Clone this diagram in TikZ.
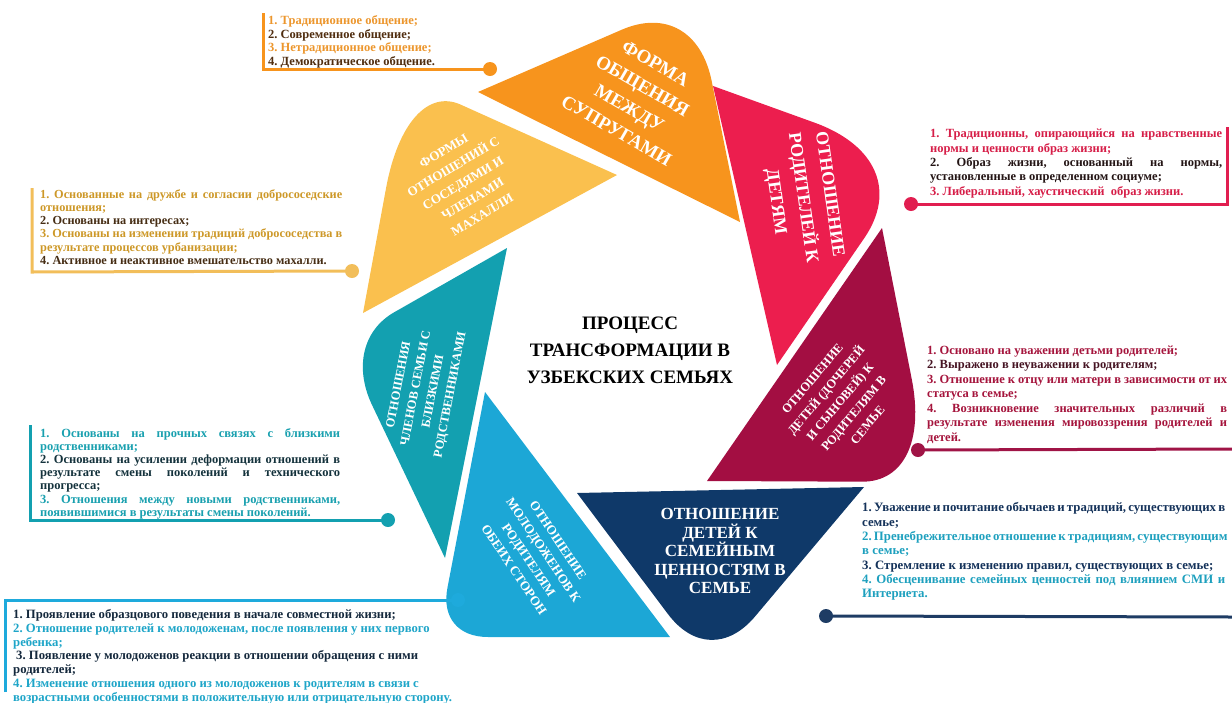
\documentclass[tikz,border=0pt]{standalone}
\usepackage{fontspec}
\setmainfont{Liberation Serif}
\usetikzlibrary{calc}
\definecolor{cOr}{RGB}{247,148,29}
\definecolor{cRd}{RGB}{236,30,78}
\definecolor{cMr}{RGB}{163,14,66}
\definecolor{cNv}{RGB}{15,57,105}
\definecolor{cLb}{RGB}{28,167,214}
\definecolor{cTl}{RGB}{19,160,176}
\definecolor{cYl}{RGB}{250,192,78}
\definecolor{tOr}{RGB}{236,150,45}
\definecolor{tOrD}{RGB}{80,45,15}
\definecolor{tRd}{RGB}{214,30,72}
\definecolor{tRdD}{RGB}{35,20,20}
\definecolor{tYl}{RGB}{205,152,40}
\definecolor{tYlD}{RGB}{70,45,20}
\definecolor{tMr}{RGB}{165,20,60}
\definecolor{tMrD}{RGB}{70,20,35}
\definecolor{tTl}{RGB}{25,160,175}
\definecolor{tTlD}{RGB}{20,50,60}
\definecolor{tNv}{RGB}{20,50,90}
\definecolor{tNvL}{RGB}{30,160,190}
\definecolor{tBl}{RGB}{20,40,60}
\definecolor{tBlL}{RGB}{30,165,200}
\definecolor{lRd}{RGB}{225,30,80}
\definecolor{lYl}{RGB}{242,190,90}
\definecolor{lMr}{RGB}{160,20,70}
\definecolor{lNv}{RGB}{30,60,100}
\definecolor{lLb}{RGB}{30,170,220}
\newcommand\bladeshape[4]{%
  \path ($(#2B)!#3!(#2A)$) coordinate (#2P) ($(#2B)!#4!(#2C)$) coordinate (#2Q);
  \fill[#1] (#2A) -- (#2P) .. controls ($(#2P)!0.6!(#2B)$) and ($(#2Q)!0.6!(#2B)$) .. (#2Q) -- (#2C) -- cycle;}
\newcommand\js[2]{\makebox[#1][s]{#2}}
\tikzset{
  note/.style={anchor=north west, inner sep=0pt, align=left, execute at begin node=\frenchspacing},
  lbl/.style={text=white, align=center, inner sep=0pt},
  conn/.style={line width=3pt},
  dotc/.style={circle, inner sep=0pt, minimum size=14pt},
}
\begin{document}
\begin{tikzpicture}[x=1pt,y=-1pt]
\useasboundingbox (0,0) rectangle (1232,702);
% blade corners
\coordinate (oA) at (478,92);  \coordinate (oB) at (695,-2);  \coordinate (oC) at (740,222);
\coordinate (rA) at (713,86);  \coordinate (rB) at (918,160); \coordinate (rC) at (777,365);
\coordinate (mA) at (882,228); \coordinate (mB) at (932,482); \coordinate (mC) at (707,481);
\coordinate (nA) at (864,487); \coordinate (nB) at (710,670); \coordinate (nC) at (577,493);
\coordinate (lA) at (670,637); \coordinate (lB) at (438,637); \coordinate (lC) at (485,392);
\coordinate (tA) at (445,558); \coordinate (tB) at (342,342); \coordinate (tC) at (507,248);
\coordinate (yA) at (363,313); \coordinate (yB) at (406,80);  \coordinate (yC) at (617,175);
\bladeshape{cOr}{o}{80pt}{85pt}
\bladeshape{cRd}{r}{110pt}{95pt}
\bladeshape{cMr}{m}{105pt}{70pt}
\bladeshape{cNv}{n}{70pt}{70pt}
\bladeshape{cLb}{l}{50pt}{50pt}
\bladeshape{cTl}{t}{70pt}{60pt}
\bladeshape{cYl}{y}{110pt}{60pt}
% blade labels
\node[lbl, rotate=-30, font=\bfseries\fontsize{19}{26}\selectfont] (labOr) at (636,97) {ФОРМА\\ОБЩЕНИЯ\\МЕЖДУ\\СУПРУГАМИ};
\node[lbl, rotate=-82, font=\bfseries\fontsize{18}{27}\selectfont] (labRd) at (802,198) {ОТНОШЕНИЕ\\РОДИТЕЛЕЙ К\\ДЕТЯМ};
\node[lbl, rotate=50, font=\bfseries\fontsize{12.5}{18}\selectfont] (labMr) at (840,402) {ОТНОШЕНИЕ\\ДЕТЕЙ (ДОЧЕРЕЙ\\И СЫНОВЕЙ) К\\РОДИТЕЛЯМ В\\СЕМЬЕ};
\node[lbl, font=\bfseries\fontsize{17}{18.5}\selectfont] (labNv) at (720,551) {ОТНОШЕНИЕ\\ДЕТЕЙ К\\СЕМЕЙНЫМ\\ЦЕННОСТЯМ В\\СЕМЬЕ};
\node[lbl, rotate=-56, font=\bfseries\fontsize{13}{17.7}\selectfont] (labLb) at (536,555) {ОТНОШЕНИЕ\\МОЛОДОЖЕНОВ К\\РОДИТЕЛЯМ\\ОБЕИХ СТОРОН};
\node[lbl, rotate=79, font=\bfseries\fontsize{12.5}{17.5}\selectfont] (labTl) at (425,390) {ОТНОШЕНИЯ\\ЧЛЕНОВ СЕМЬИ С\\БЛИЗКИМИ\\РОДСТВЕННИКАМИ};
\node[lbl, rotate=31, font=\bfseries\fontsize{13}{18.7}\selectfont] (labYl) at (463,183) {ФОРМЫ\\ОТНОШЕНИЙ С\\СОСЕДЯМИ И\\ЧЛЕНАМИ\\МАХАЛЛИ};
\node[align=center, inner sep=0pt, font=\bfseries\fontsize{19}{27}\selectfont] (title) at (630,350) {ПРОЦЕСС\\ТРАНСФОРМАЦИИ В\\УЗБЕКСКИХ СЕМЬЯХ};
% connectors
\node[dotc, fill=cOr] (dOr) at (490,69) {};
\coordinate (kOr1) at (263,13); \coordinate (kOr2) at (263,69);
\draw[conn, cOr] (kOr1) -- (kOr2) -- (dOr.center);
\node[dotc, fill=lRd] (dRd) at (911,204) {};
\coordinate (kRd1) at (1227,127); \coordinate (kRd2) at (1227,204);
\draw[conn, lRd] (kRd1) -- (kRd2) -- (dRd.center);
\node[dotc, fill=lYl] (dYl) at (352,271) {};
\coordinate (kYl1) at (32,188); \coordinate (kYl2) at (32,272);
\draw[conn, lYl] (kYl1) -- (kYl2) -- (dYl.center);
\node[dotc, fill=lMr] (dMr) at (918,450) {};
\coordinate (kMr) at (1232,449);
\draw[conn, lMr] (dMr.center) -- (kMr);
\node[dotc, fill=cTl] (dTl) at (388,520) {};
\coordinate (kTl1) at (30,425); \coordinate (kTl2) at (30,520);
\draw[conn, cTl] (kTl1) -- (kTl2) -- (dTl.center);
\node[dotc, fill=lNv] (dNv) at (826,616) {};
\coordinate (kNv) at (1232,617);
\draw[conn, lNv] (dNv.center) -- (kNv);
\node[dotc, fill=lLb] (dLb) at (458,600) {};
\coordinate (kLb1) at (5,692); \coordinate (kLb2) at (5,600);
\draw[conn, lLb] (kLb1) -- (kLb2) -- (dLb.center);
% text boxes
\node[note, font=\bfseries\fontsize{12.5}{13.5}\selectfont] (txOr) at (268,15.5) {%
\textcolor{tOr}{1. Традиционное общение;}\\
\textcolor{tOrD}{2. Современное общение;}\\
\textcolor{tOr}{3. Нетрадиционное общение;}\\
\textcolor{tOrD}{4. Демократическое общение.}};
\node[note, font=\bfseries\fontsize{12.5}{14.3}\selectfont] (txRd) at (930,129) {%
\textcolor{tRd}{\js{292pt}{1. Традиционны, опирающийся на нравственные}}\\
\textcolor{tRd}{нормы и ценности образ жизни;}\\
\textcolor{tRdD}{\js{292pt}{2. Образ жизни, основанный на нормы,}}\\
\textcolor{tRdD}{установленные в определенном социуме;}\\
\textcolor{tRd}{3. Либеральный, хаустический\ \ образ жизни.}};
\node[note, font=\bfseries\fontsize{12.3}{13.3}\selectfont] (txYl) at (40,189) {%
\textcolor{tYl}{\js{302pt}{1. Основанные на дружбе и согласии добрососедские}}\\
\textcolor{tYl}{отношения;}\\
\textcolor{tYlD}{2. Основаны на интересах;}\\
\textcolor{tYl}{\js{302pt}{3. Основаны на изменении традиций добрососедства в}}\\
\textcolor{tYl}{результате процессов урбанизации;}\\
\textcolor{tYlD}{4. Активное и неактивное вмешательство махалли.}};
\node[note, font=\bfseries\fontsize{12.5}{14.5}\selectfont] (txMr) at (927,345.5) {%
\textcolor{tMr}{1. Основано на уважении детьми родителей;}\\
\textcolor{tMrD}{2. Выражено в неуважении к родителям;}\\
\textcolor{tMr}{\js{300pt}{3. Отношение к отцу или матери в зависимости от их}}\\
\textcolor{tMr}{статуса в семье;}\\
\textcolor{tMr}{\js{300pt}{4. Возникновение значительных различий в}}\\
\textcolor{tMr}{\js{300pt}{результате изменения мировоззрения родителей и}}\\
\textcolor{tMr}{детей.}};
\node[note, font=\bfseries\fontsize{12.5}{13.2}\selectfont] (txTl) at (40,428) {%
\textcolor{tTl}{\js{300pt}{1. Основаны на прочных связях с близкими}}\\
\textcolor{tTl}{родственниками;}\\
\textcolor{tTlD}{\js{300pt}{2. Основаны на усилении деформации отношений в}}\\
\textcolor{tTlD}{\js{300pt}{результате смены поколений и технического}}\\
\textcolor{tTlD}{прогресса;}\\
\textcolor{tTl}{\js{300pt}{3. Отношения между новыми родственниками,}}\\
\textcolor{tTl}{появившимися в результаты смены поколений.}};
\node[note, font=\bfseries\fontsize{12.8}{14.3}\selectfont] (txNv) at (862,502.5) {%
\textcolor{tNv}{\js{363pt}{1. Уважение и почитание обычаев и традиций, существующих в}}\\
\textcolor{tNv}{семье;}\\
\textcolor{tNvL}{\js{363pt}{2. Пренебрежительное отношение к традициям, существующим}}\\
\textcolor{tNvL}{в семье;}\\
\textcolor{tNv}{3. Стремление к изменению правил, существующих в семье;}\\
\textcolor{tNvL}{\js{363pt}{4. Обесценивание семейных ценностей под влиянием СМИ и}}\\
\textcolor{tNvL}{Интернета.}};
\node[note, font=\bfseries\fontsize{12.7}{13.7}\selectfont] (txLb) at (13,609.5) {%
\textcolor{tBl}{1. Проявление образцового поведения в начале совместной жизни;}\\
\textcolor{tBlL}{2. Отношение родителей к молодоженам, после появления у них первого}\\
\textcolor{tBlL}{ребенка;}\\
\textcolor{tBl}{\hspace{3pt}3. Появление у молодоженов реакции в отношении обращения с ними}\\
\textcolor{tBl}{родителей;}\\
\textcolor{tBlL}{4. Изменение отношения одного из молодоженов к родителям в связи с}\\
\textcolor{tBlL}{возрастными особенностями в положительную или отрицательную сторону.}};
\end{tikzpicture}
\end{document}
